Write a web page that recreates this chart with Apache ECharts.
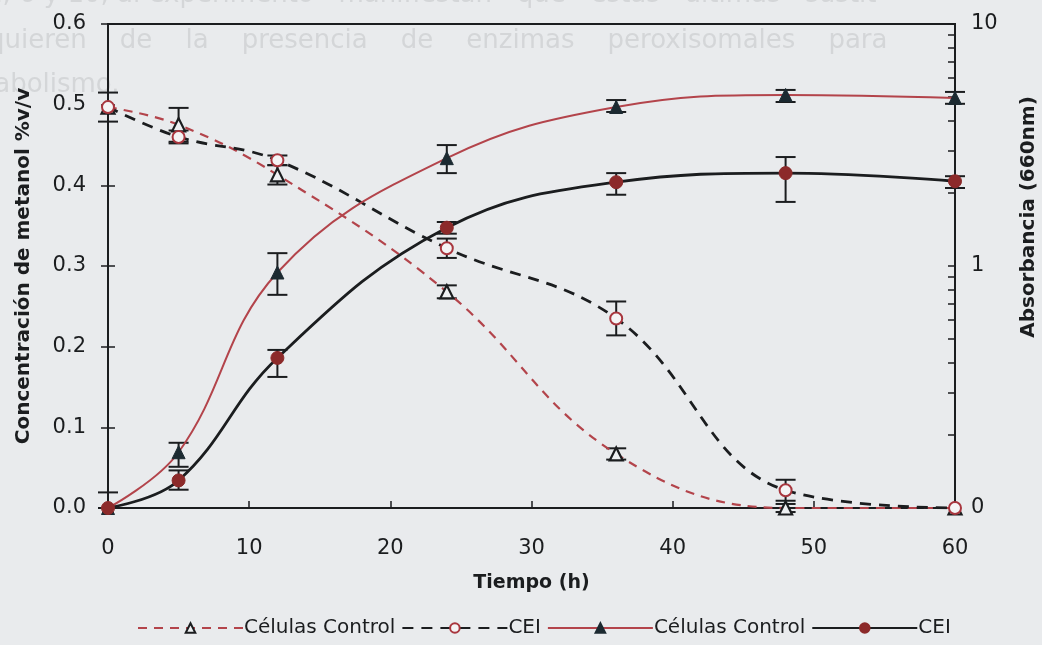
<!DOCTYPE html>
<html>
<head>
<meta charset="utf-8">
<script src="https://cdn.jsdelivr.net/npm/echarts@6/dist/echarts.min.js"></script>
<style>
html,body{margin:0;padding:0;background:#e9ebed;}
#c{width:1042px;height:645px;}
</style>
</head>
<body>
<div id="c"></div>
<script>
// ---- data ----
const time = [0, 5, 12, 24, 36, 48, 60];
// methanol concentration (%v/v), left axis
const metCtrl = [0.497, 0.475, 0.413, 0.268, 0.067, 0.0, 0.0];
const metCtrlErr = [0.018, 0.021, 0.012, 0.008, 0.007, 0.005, 0];
const metCei = [0.497, 0.46, 0.431, 0.322, 0.235, 0.022, 0.0];
const metCeiErr = [0.0, 0.008, 0.006, 0.012, 0.021, 0.013, 0];
// absorbance (660 nm), right log axis
const absCtrl = [0.1, 0.17, 0.94, 2.79, 4.54, 5.09, 4.95];
const absCtrlLo = [0.1, 0.148, 0.76, 2.42, 4.33, 4.76, 4.68];
const absCtrlHi = [0.116, 0.186, 1.13, 3.16, 4.85, 5.34, 5.24];
const absCei = [0.1, 0.13, 0.417, 1.44, 2.22, 2.42, 2.24];
const absCeiLo = [0.1, 0.119, 0.348, 1.36, 1.97, 1.84, 2.10];
const absCeiHi = [0.1, 0.143, 0.45, 1.52, 2.42, 2.82, 2.35];
const leftTicks = [0, 0.1, 0.2, 0.3, 0.4, 0.5, 0.6];
const rightLabelValues = [0.1, 1, 10];
const rightTickValues = [0.1,0.2,0.3,0.4,0.5,0.6,0.7,0.8,0.9,1,2,3,4,5,6,7,8,9,10];
const seriesNames = ['Células Control', 'CEI', 'Células Control ', 'CEI '];

const FONT = 'DejaVu Sans';
const INK = '#1b1d1f';
const RED = '#b3444b';

function zip(a, b) { return a.map((v, i) => [v, b[i]]); }
function errData(vals, err) { return time.map((t, i) => [t, vals[i] - err[i], vals[i] + err[i]]); }
function loHiData(lo, hi) { return time.map((t, i) => [t, lo[i], hi[i]]); }

function renderErr(params, api) {
  const x = api.value(0), lo = api.value(1), hi = api.value(2);
  if (hi - lo <= 0) return null;
  const p1 = api.coord([x, lo]), p2 = api.coord([x, hi]);
  const w = 10;
  const st = { stroke: INK, lineWidth: 2 };
  return { type: 'group', children: [
    { type: 'line', shape: { x1: p1[0], y1: p1[1], x2: p2[0], y2: p2[1] }, style: st },
    { type: 'line', shape: { x1: p1[0] - w, y1: p1[1], x2: p1[0] + w, y2: p1[1] }, style: st },
    { type: 'line', shape: { x1: p2[0] - w, y1: p2[1], x2: p2[0] + w, y2: p2[1] }, style: st }
  ]};
}

const chart = echarts.init(document.getElementById('c'), null, { renderer: 'canvas' });
const option = {
  backgroundColor: '#e9ebed',
  animation: false,
  textStyle: { fontFamily: FONT },
  graphic: [
    { type: 'text', left: -14, top: -18, z: -10, style: { text: 'n, 6 y 10, al experimento   manifiestan   que   estas   últimas   sustit', font: '26px ' + FONT, fill: '#d4d6d8' } },
    { type: 'text', left: -12, top: 28, z: -10, style: { text: 'quieren    de    la    presencia    de    enzimas    peroxisomales    para', font: '26px ' + FONT, fill: '#d4d6d8' } },
    { type: 'text', left: -16, top: 72, z: -10, style: { text: 'tabolismo.', font: '26px ' + FONT, fill: '#d4d6d8' } }
  ],
  grid: { left: 108, right: 87, top: 24, bottom: 137, outerBoundsMode: 'none', containLabel: false,
    show: true, borderColor: INK, borderWidth: 2, backgroundColor: 'transparent' },
  legend: {
    data: seriesNames,
    bottom: 2,
    left: 132,
    itemWidth: 105,
    itemHeight: 12,
    itemGap: 6,
    textStyle: { fontFamily: FONT, fontSize: 20, color: INK, padding: [0, 0, 0, -4] },
    formatter: n => n.trim()
  },
  xAxis: {
    type: 'value', min: 0, max: 60, interval: 10,
    name: 'Tiempo (h)', nameLocation: 'middle', nameGap: 66,
    nameTextStyle: { fontFamily: FONT, fontSize: 19, fontWeight: 'bold', color: INK },
    axisLine: { lineStyle: { color: INK, width: 2 } },
    axisTick: { inside: true, length: 7, lineStyle: { color: INK, width: 1.5 } },
    axisLabel: { fontSize: 21, color: INK, margin: 30, fontFamily: FONT },
    splitLine: { show: false }
  },
  yAxis: [
    {
      type: 'value', min: 0, max: 0.6, interval: 0.1, position: 'left',
      name: 'Concentración de metanol %v/v', nameLocation: 'middle', nameGap: 74,
      nameTextStyle: { fontFamily: FONT, fontSize: 20, fontWeight: 'bold', color: INK },
      axisLine: { show: true, lineStyle: { color: INK, width: 2 } },
      axisTick: { show: true, inside: true, length: 7, lineStyle: { color: INK, width: 1.5 } },
      axisLabel: { fontSize: 21, color: INK, margin: 22, fontFamily: FONT, formatter: v => v.toFixed(1) },
      splitLine: { show: false }
    },
    {
      type: 'log', logBase: 10, min: 0.1, max: 10, position: 'right',
      name: 'Absorbancia (660nm)', nameLocation: 'middle', nameGap: 64,
      nameTextStyle: { fontFamily: FONT, fontSize: 20, fontWeight: 'bold', color: INK, padding: [0, 0, 0, 98] },
      axisLine: { show: true, lineStyle: { color: INK, width: 2 } },
      axisTick: { show: true, inside: true, length: 7, customValues: rightTickValues, lineStyle: { color: INK, width: 1.5 } },
      axisLabel: { fontSize: 21, color: INK, margin: 16, fontFamily: FONT, customValues: rightLabelValues,
        formatter: v => (v < 0.5 ? '0' : String(Math.round(v))) },
      splitLine: { show: false },
      minorTick: { show: false }
    },
    {
      type: 'value', min: 0, max: 0.6, interval: 0.1, position: 'left',
      axisLine: { show: false },
      axisTick: { show: true, inside: false, length: 7, lineStyle: { color: INK, width: 1.5 } },
      axisLabel: { show: false },
      splitLine: { show: false }
    }
  ],
  series: [
    {
      name: seriesNames[0], type: 'line', yAxisIndex: 0, data: zip(time, metCtrl),
      smooth: 0.4, z: 5,
      lineStyle: { color: RED, width: 2.2, type: [9, 7] },
      symbol: 'triangle', symbolSize: 13,
      itemStyle: { color: '#eef0f2', borderColor: INK, borderWidth: 2.2 }
    },
    {
      name: seriesNames[1], type: 'line', yAxisIndex: 0, data: zip(time, metCei),
      smooth: 0.4, z: 5,
      lineStyle: { color: INK, width: 2.8, type: [11, 8] },
      symbol: 'circle', symbolSize: 12,
      itemStyle: { color: '#f4f4f5', borderColor: '#a8363e', borderWidth: 2 }
    },
    {
      name: seriesNames[2], type: 'line', yAxisIndex: 1, data: zip(time, absCtrl),
      smooth: 0.4, z: 5,
      lineStyle: { color: RED, width: 2 },
      symbol: 'triangle', symbolSize: 13,
      itemStyle: { color: '#1c2a31', borderColor: '#1c2a31', borderWidth: 1 }
    },
    {
      name: seriesNames[3], type: 'line', yAxisIndex: 1, data: zip(time, absCei),
      smooth: 0.4, z: 5,
      lineStyle: { color: INK, width: 2.8 },
      symbol: 'circle', symbolSize: 13,
      itemStyle: { color: '#8c2a2a', borderColor: '#8c2a2a', borderWidth: 1 }
    },
    { type: 'custom', yAxisIndex: 0, data: errData(metCtrl, metCtrlErr), renderItem: renderErr, z: 4, clip: false, silent: true },
    { type: 'custom', yAxisIndex: 0, data: errData(metCei, metCeiErr), renderItem: renderErr, z: 4, clip: false, silent: true },
    { type: 'custom', yAxisIndex: 1, data: loHiData(absCtrlLo, absCtrlHi), renderItem: renderErr, z: 4, clip: false, silent: true },
    { type: 'custom', yAxisIndex: 1, data: loHiData(absCeiLo, absCeiHi), renderItem: renderErr, z: 4, clip: false, silent: true }
  ]
};
chart.setOption(option);
</script>
</body>
</html>
